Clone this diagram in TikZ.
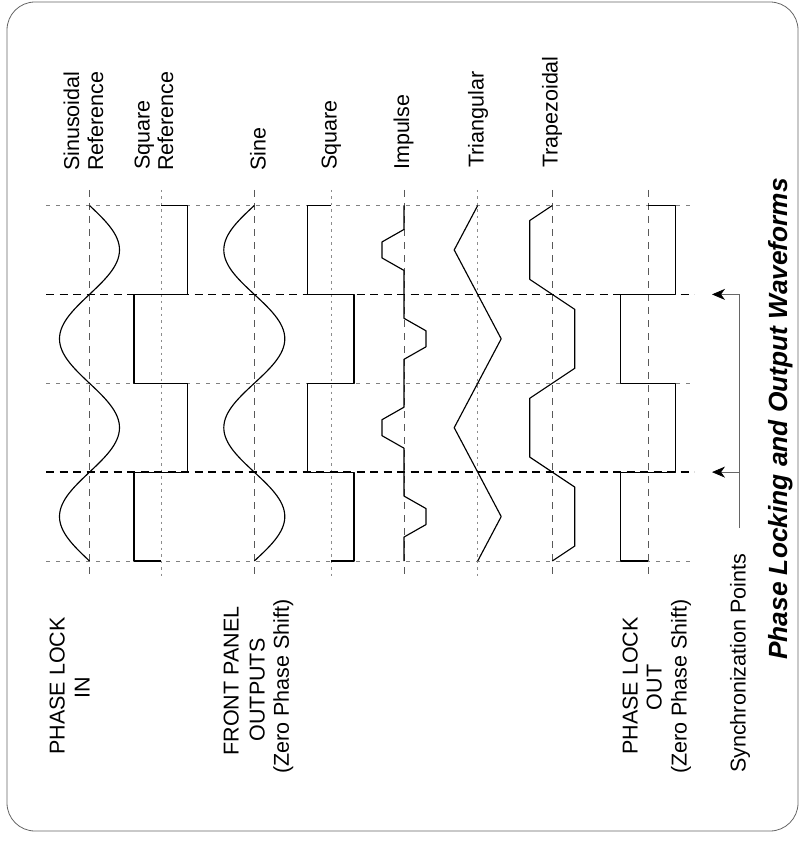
\documentclass[tikz,border=0pt]{standalone}
\usepackage{fontspec}
\setmainfont{Liberation Sans}
\usetikzlibrary{arrows.meta}
\begin{document}
\begin{tikzpicture}[x=1pt,y=-1pt,
  frame/.style={black!60, line width=0.8pt, rounded corners=28pt},
  wave/.style={line width=1.15pt, line join=round},
  syncline/.style={line width=1.6pt, dash pattern=on 8pt off 5.5pt},
  lightline/.style={line width=0.7pt, black!50, dash pattern=on 4pt off 6pt},
  guidedash/.style={line width=0.7pt, black!65, dash pattern=on 7pt off 6pt},
  guidedot/.style={line width=0.7pt, black!45, dash pattern=on 2.5pt off 4pt},
  lbl/.style={rotate=90, inner sep=0pt, font=\fontsize{21.5}{24}\selectfont},
  ttl/.style={rotate=90, inner sep=0pt, font=\fontsize{26.3}{30}\selectfont\bfseries\itshape},
  thinline/.style={line width=0.7pt, black!60},
  arrowline/.style={thinline, -{Stealth[length=13pt,width=11pt,inset=4pt,black]}}
]
\useasboundingbox (0,0) rectangle (801,842);
\draw[frame] (7,2) rectangle (798,831);

% vertical guides
\foreach \gx in {89.5,254.3,404,552.3,648.3}
  \draw[guidedash] (\gx,190) -- (\gx,578);
\foreach \gx in {161,331,477.7}
  \draw[guidedot] (\gx,190) -- (\gx,578);

% horizontal timing lines
\foreach \gy in {205.5,383.25,561}
  \draw[lightline] (46,\gy) -- (694,\gy);
\foreach \gy in {294.4,472.1}
  \draw[syncline] (46,\gy) -- (694,\gy);

% Sinusoidal reference
\draw[wave] plot[domain=205.5:561, samples=121, smooth] ({89.5+30*sin((\x-205.5)*2.025316)}, \x);
% Square reference
\draw[wave] (161,205.5) -- (187.3,205.5) -- (187.3,294.4) -- (134,294.4) -- (134,383.25)
  -- (187.3,383.25) -- (187.3,472.1) -- (134,472.1) -- (134,561) -- (161,561);
% Sine
\draw[wave] plot[domain=205.5:561, samples=121, smooth] ({254.3-30.5*sin((\x-205.5)*2.025316)}, \x);
% Square
\draw[wave] (331,205.5) -- (307.7,205.5) -- (307.7,294.4) -- (354,294.4) -- (354,383.25)
  -- (307.7,383.25) -- (307.7,472.1) -- (354,472.1) -- (354,561) -- (331,561);
% Impulse
\draw[wave] (404,205.5) -- (404,229.44) -- (382,241.94) -- (382,257.94) -- (404,270.44)
  -- (404,318.31) -- (426,330.81) -- (426,346.81) -- (404,359.31)
  -- (404,407.19) -- (382,419.69) -- (382,435.69) -- (404,448.19)
  -- (404,496.06) -- (426,508.56) -- (426,524.56) -- (404,537.06) -- (404,561);
% Triangular
\draw[wave] (477.7,205.5) -- (454.2,249.94) -- (477.7,294.4) -- (501.2,338.81) -- (477.7,383.25)
  -- (454.2,427.69) -- (477.7,472.1) -- (501.2,516.56) -- (477.7,561);
% Trapezoidal
\draw[wave] (552.3,205.5) -- (529.8,220.5) -- (529.8,279.4) -- (552.3,294.4) -- (574.8,309.4)
  -- (574.8,368.25) -- (552.3,383.25) -- (529.8,398.25) -- (529.8,457.1) -- (552.3,472.1)
  -- (574.8,487.1) -- (574.8,546) -- (552.3,561);
% Phase lock out
\draw[wave] (648.3,205.5) -- (675.7,205.5) -- (675.7,294.4) -- (620.7,294.4) -- (620.7,383.25)
  -- (675.7,383.25) -- (675.7,472.1) -- (620.7,472.1) -- (620.7,561) -- (648.3,561);

% synchronization arrows
\coordinate (v1) at (739,294.4);
\coordinate (v2) at (739,472.1);
\coordinate (vend) at (739,528);
\coordinate (t1) at (712,294.4);
\coordinate (t2) at (712,472.1);
\draw[thinline] (vend) -- (v1);
\draw[arrowline] (v1) -- (t1);
\draw[arrowline] (v2) -- (t2);

% top labels
\node[lbl, anchor=base west] (l1a) at (79,171) {Sinusoidal};
\node[lbl, anchor=base west] (l1b) at (103,171) {Reference};
\node[lbl, anchor=base west] (l2a) at (149.5,170) {Square};
\node[lbl, anchor=base west] (l2b) at (173,171) {Reference};
\node[lbl, anchor=base west] (l3) at (265.5,171) {Sine};
\node[lbl, anchor=base west] (l4) at (336.5,170) {Square};
\node[lbl, anchor=base west] (l5) at (409,170) {Impulse};
\node[lbl, anchor=base west] (l6) at (483.5,168) {Triangular};
\node[lbl, anchor=base west] (l7) at (557.5,168) {Trapezoidal};

% bottom labels
\node[lbl, anchor=base] (b1a) at (64.5,686) {PHASE LOCK};
\node[lbl, anchor=base] (b1b) at (89.5,688) {IN};
\node[lbl, anchor=base] (b2a) at (238.5,681) {FRONT PANEL};
\node[lbl, anchor=base] (b2b) at (264.5,690) {OUTPUTS};
\node[lbl, anchor=base] (b2c) at (288.8,686.5) {(Zero Phase Shift)};
\node[lbl, anchor=base] (b3a) at (637.5,686) {PHASE LOCK};
\node[lbl, anchor=base] (b3b) at (661.5,687.5) {OUT};
\node[lbl, anchor=base] (b3c) at (686.5,686.5) {(Zero Phase Shift)};
\node[lbl, anchor=base west] (sync) at (745.5,773) {Synchronization Points};

% title
\node[ttl, anchor=base west] (title) at (787,660) {Phase Locking and Output Waveforms};
\end{tikzpicture}
\end{document}
